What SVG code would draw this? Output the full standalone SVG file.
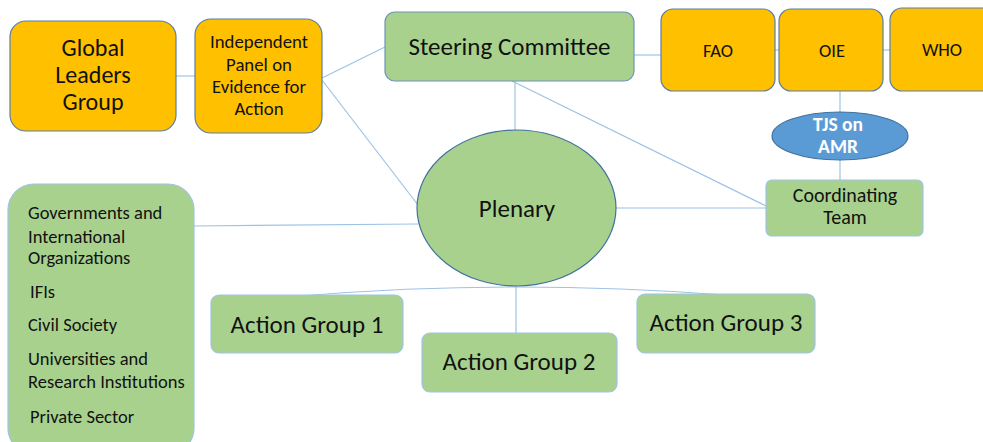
<svg xmlns="http://www.w3.org/2000/svg" width="983" height="442" viewBox="0 0 983 442">
<style>
.orange{fill:#ffc000;stroke:#5b7fa3;stroke-width:1.2}
.green{fill:#a9d18e;stroke:#9dc3e6;stroke-width:1.2}
.greenD{fill:#a9d18e;stroke:#41719c;stroke-width:1.2}
.greenM{fill:#a9d18e;stroke:#6f93b8;stroke-width:1.2}
.blue{fill:#5b9bd5;stroke:#41719c;stroke-width:1.2}
.t{font-family:Carlito,"Liberation Sans",sans-serif;fill:#111111;text-anchor:middle}
.tl{font-family:Carlito,"Liberation Sans",sans-serif;fill:#111111;font-size:18.5px}
.w{font-family:Carlito,"Liberation Sans",sans-serif;fill:#ffffff;text-anchor:middle;font-weight:bold;font-size:19.5px}
.c{fill:none;stroke:#9dc3e6;stroke-width:1.2}
</style>
<rect width="983" height="442" fill="#ffffff"/>
<g id="connectors">
<line class="c" x1="176" y1="76" x2="195" y2="76"/>
<line class="c" x1="322" y1="78" x2="385" y2="47"/>
<line class="c" x1="322" y1="80" x2="418" y2="205"/>
<line class="c" x1="634" y1="55" x2="661" y2="55"/>
<line class="c" x1="775" y1="50" x2="779" y2="50"/>
<line class="c" x1="883" y1="50" x2="890" y2="50"/>
<line class="c" x1="515" y1="81" x2="515" y2="130"/>
<line class="c" x1="512" y1="81" x2="766" y2="206"/>
<line class="c" x1="616" y1="208" x2="766" y2="208"/>
<line class="c" x1="840" y1="91" x2="840" y2="112"/>
<line class="c" x1="840" y1="160" x2="840" y2="180"/>
<line class="c" x1="194" y1="226" x2="418" y2="224"/>
<line class="c" x1="516" y1="286" x2="516" y2="333"/>
<path class="c" d="M300 296 Q410 287 516 287 Q620 287 726 295"/>
</g>
<g id="global-leaders-group">
<rect class="orange" x="10" y="21" width="166" height="110" rx="16"/>
<text class="t" font-size="24"><tspan x="93" y="56">Global</tspan><tspan x="93" y="83">Leaders</tspan><tspan x="93" y="110">Group</tspan></text>
</g>
<g id="independent-panel">
<rect class="orange" x="195" y="19" width="127" height="114" rx="16"/>
<text class="t" font-size="18.8"><tspan x="259" y="48">Independent</tspan><tspan x="259" y="71">Panel on</tspan><tspan x="259" y="93">Evidence for</tspan><tspan x="259" y="115">Action</tspan></text>
</g>
<g id="steering-committee">
<rect class="greenM" x="385" y="12" width="249" height="69" rx="10"/>
<text class="t" font-size="25" x="509.5" y="55">Steering Committee</text>
</g>
<g id="fao">
<rect class="orange" x="661" y="9" width="114" height="82" rx="12"/>
<text class="t" font-size="18.5" x="718" y="57">FAO</text>
</g>
<g id="oie">
<rect class="orange" x="779" y="9" width="104" height="82" rx="12"/>
<text class="t" font-size="18.5" x="832" y="57">OIE</text>
</g>
<g id="who">
<rect class="orange" x="890" y="8" width="105" height="83" rx="12"/>
<text class="t" font-size="18.5" x="942" y="56">WHO</text>
</g>
<g id="tjs-on-amr">
<ellipse class="blue" cx="840" cy="136" rx="68" ry="24"/>
<text class="w"><tspan x="838" y="131">TJS on</tspan><tspan x="838" y="153">AMR</tspan></text>
</g>
<g id="coordinating-team">
<rect class="green" x="766" y="180" width="157" height="56" rx="6"/>
<text class="t" font-size="20"><tspan x="845" y="202">Coordinating</tspan><tspan x="845" y="224">Team</tspan></text>
</g>
<g id="plenary">
<ellipse class="greenD" cx="516.5" cy="208" rx="99.5" ry="78"/>
<text class="t" font-size="25" x="517" y="217">Plenary</text>
</g>
<g id="stakeholders">
<rect class="green" x="8" y="184" width="186" height="270" rx="26"/>
<text class="tl"><tspan x="28" y="219">Governments and</tspan><tspan x="28" y="243">International</tspan><tspan x="28" y="264">Organizations</tspan><tspan x="30" y="298">IFIs</tspan><tspan x="28" y="331">Civil Society</tspan><tspan x="28" y="365">Universities and</tspan><tspan x="28" y="388">Research Institutions</tspan><tspan x="30" y="423">Private Sector</tspan></text>
</g>
<g id="action-group-1">
<rect class="green" x="211" y="295" width="192" height="58" rx="8"/>
<text class="t" font-size="25" x="307" y="333">Action Group 1</text>
</g>
<g id="action-group-2">
<rect class="green" x="422" y="333" width="195" height="59" rx="8"/>
<text class="t" font-size="25" x="519" y="370">Action Group 2</text>
</g>
<g id="action-group-3">
<rect class="green" x="637" y="294" width="178" height="59" rx="8"/>
<text class="t" font-size="25" x="726" y="331">Action Group 3</text>
</g>
</svg>
